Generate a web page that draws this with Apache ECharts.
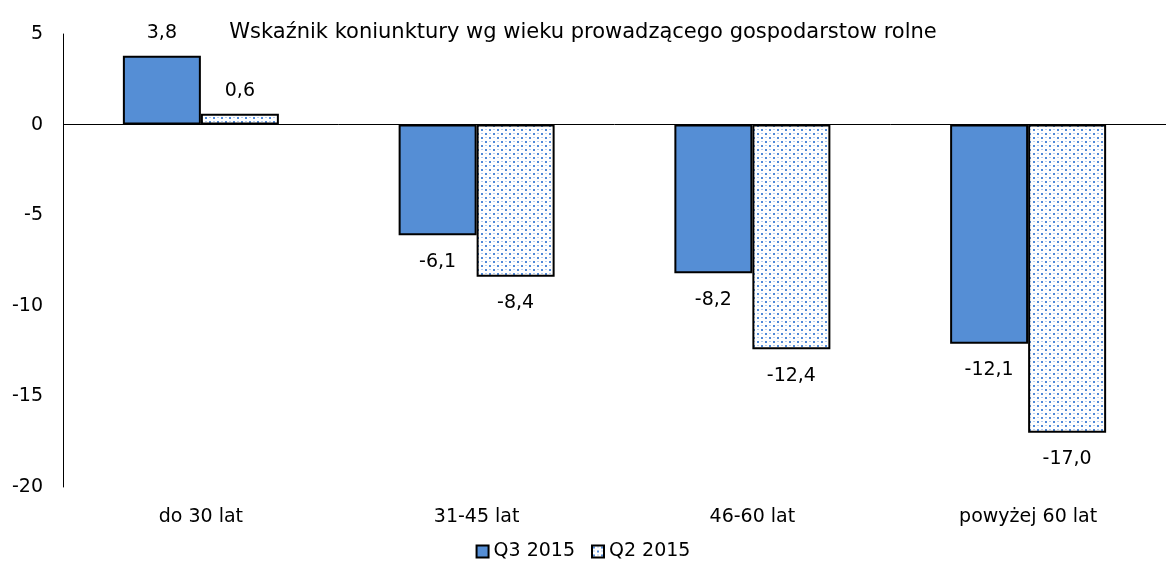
<!DOCTYPE html>
<html><head><meta charset="utf-8">
<script src="https://cdn.jsdelivr.net/npm/echarts@6/dist/echarts.min.js"></script>
<style>html,body{margin:0;padding:0;background:#fff}#c{width:1166px;height:583px}</style>
</head><body><div id="c"></div>
<script>
const categories = ['do 30 lat', '31-45 lat', '46-60 lat', 'powyżej 60 lat'];
const q3 = [3.8, -6.1, -8.2, -12.1];
const q2 = [0.6, -8.4, -12.4, -17.0];
const seriesNames = ['Q3 2015', 'Q2 2015'];
const yTicks = {min: -20, max: 5, interval: 5};

const FONT = 'DejaVu Sans';
const FS = 19;
const tile = document.createElement('canvas');
tile.width = 8; tile.height = 8;
const g = tile.getContext('2d');
g.fillStyle = '#ffffff'; g.fillRect(0, 0, 8, 8);
g.fillStyle = '#4f89d8';
g.fillRect(1, 1, 2, 2);
g.fillRect(5, 5, 2, 2);
g.fillStyle = '#b5cdf0';
g.fillRect(5, 1, 2, 1);
g.fillRect(1, 5, 2, 1);
const pattern = {image: tile, repeat: 'repeat'};

function mk(vals) {
  return vals.map(v => ({value: v, label: {position: v >= 0 ? 'top' : 'bottom', distance: v >= 0 ? 13 : 17}}));
}
const fmt = p => p.value.toFixed(1).replace('.', ',');

const chart = echarts.init(document.getElementById('c'));
chart.setOption({
  animation: false,
  backgroundColor: '#fff',
  title: {text: 'Wskaźnik koniunktury wg wieku prowadzącego gospodarstow rolne', left: 'center', top: 17,
    textStyle: {fontFamily: FONT, fontSize: 21, fontWeight: 'normal', color: '#000'}},
  legend: {bottom: 17, left: 'center', itemWidth: 12, itemHeight: 12, itemGap: 16,
    textStyle: {fontFamily: FONT, fontSize: FS, color: '#000'},
    data: seriesNames.map(n => ({name: n, icon: 'rect'}))},
  grid: {left: 63, right: 0, top: 34, bottom: 96},
  xAxis: {type: 'category', data: categories,
    axisLine: {show: false}, axisTick: {show: false},
    axisLabel: {fontFamily: FONT, fontSize: FS, color: '#000', margin: 21}},
  yAxis: {type: 'value', min: yTicks.min, max: yTicks.max, interval: yTicks.interval,
    axisLine: {show: true, lineStyle: {color: '#000', width: 1}}, axisTick: {show: false},
    splitLine: {show: false},
    axisLabel: {fontFamily: FONT, fontSize: FS, color: '#000', margin: 20}},
  series: [
    {name: seriesNames[0], type: 'bar', data: mk(q3), barWidth: 78, barGap: '0%',
      itemStyle: {color: '#558ed5', borderColor: '#000', borderWidth: 2},
      label: {show: true, formatter: fmt, fontFamily: FONT, fontSize: FS, color: '#000'},
      markLine: {silent: true, symbol: ['none', 'none'], label: {show: false},
        lineStyle: {color: '#000', width: 1, type: 'solid'}, data: [{yAxis: 0}]}},
    {name: seriesNames[1], type: 'bar', data: mk(q2), barWidth: 78, barGap: '0%',
      itemStyle: {color: pattern, borderColor: '#000', borderWidth: 2},
      label: {show: true, formatter: fmt, fontFamily: FONT, fontSize: FS, color: '#000'}}
  ]
});
</script></body></html>
